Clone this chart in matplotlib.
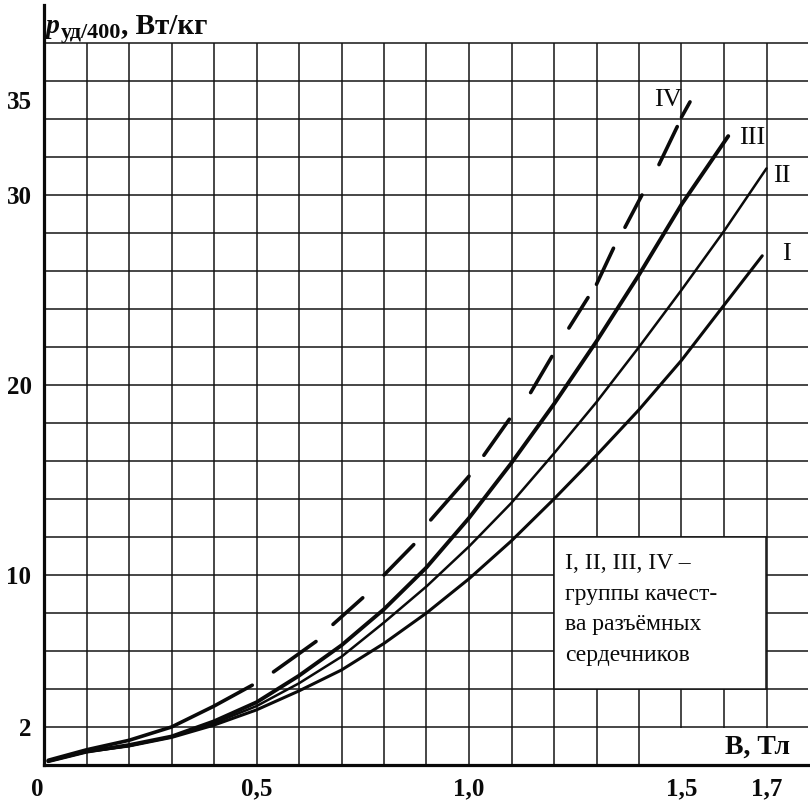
import matplotlib
matplotlib.use('Agg')
import matplotlib.pyplot as plt
from matplotlib.patches import Rectangle
from matplotlib.transforms import ScaledTranslation

plt.rcParams['font.family'] = ['Liberation Serif', 'DejaVu Serif']

# ---------------- data ----------------
B_I = [0.01, 0.1, 0.2, 0.3, 0.4, 0.5, 0.6, 0.7, 0.8, 0.9, 1.0, 1.1, 1.2, 1.3, 1.4, 1.5, 1.6, 1.69]
P_I = [0.2, 0.7, 1.0, 1.45, 2.1, 2.9, 3.9, 5.0, 6.4, 8.0, 9.8, 11.8, 14.0, 16.3, 18.7, 21.3, 24.2, 26.8]

B_II = [0.01, 0.1, 0.2, 0.3, 0.4, 0.5, 0.6, 0.7, 0.8, 0.9, 1.0, 1.1, 1.2, 1.3, 1.4, 1.5, 1.6, 1.7]
P_II = [0.2, 0.7, 1.0, 1.5, 2.2, 3.1, 4.3, 5.7, 7.5, 9.4, 11.5, 13.8, 16.4, 19.1, 22.0, 25.0, 28.1, 31.4]

B_III = [0.01, 0.1, 0.2, 0.3, 0.4, 0.5, 0.6, 0.7, 0.8, 0.9, 1.0, 1.1, 1.2, 1.3, 1.4, 1.5, 1.61]
P_III = [0.2, 0.7, 1.05, 1.5, 2.3, 3.3, 4.7, 6.3, 8.2, 10.4, 13.0, 15.9, 19.0, 22.3, 25.8, 29.5, 33.1]

# curve IV is drawn as separate dash pieces; DASHES_IV gives index ranges
B_IV = [0.01, 0.1, 0.2, 0.3, 0.4, 0.49, 0.54, 0.64, 0.68, 0.75, 0.80, 0.87, 0.91, 1.0,
        1.035, 1.095, 1.145, 1.195, 1.235, 1.28, 1.30, 1.34, 1.367, 1.407, 1.447, 1.49, 1.50, 1.52]
P_IV = [0.25, 0.8, 1.3, 2.0, 3.1, 4.2, 4.9, 6.5, 7.4, 8.8, 10.0, 11.6, 12.9, 15.2,
        16.3, 18.2, 19.6, 21.5, 23.0, 24.6, 25.3, 27.2, 28.3, 30.0, 31.6, 33.6, 34.1, 34.9]
DASHES_IV = [(0, 5), (6, 7), (8, 9), (10, 11), (12, 13), (14, 15), (16, 17), (18, 19),
             (20, 21), (22, 23), (24, 25), (26, 27)]

X_TICKS = [0, 0.5, 1.0, 1.5, 1.7]
X_TICK_LABELS = ['0', '0,5', '1,0', '1,5', '1,7']
Y_TICKS = [2, 10, 20, 30, 35]
Y_TICK_LABELS = ['2', '10', '20', '30', '35']
GRID_X = [0.1 * i for i in range(1, 18)]
GRID_Y = [2 * i for i in range(1, 20)]

CURVE_LABELS = ['I', 'II', 'III', 'IV']
LABEL_POS = [(1.748, 26.9), (1.736, 31.0), (1.666, 33.0), (1.468, 35.0)]
NOTE = 'I, II, III, IV –\nгруппы качест-\nва разъёмных\nсердечников'

# ---------------- figure ----------------
W, H = 810, 801
fig = plt.figure(figsize=(W / 100, H / 100), dpi=100)
ax = fig.add_axes([44 / W, 36 / H, (808 - 44) / W, (765 - 5) / H])
XMAX, YMAX = (808 - 44) / 425, 40
ax.set_xlim(0, XMAX)
ax.set_ylim(0, YMAX)

gc = '#151515'
ax.hlines(GRID_Y, 0, XMAX, color=gc, lw=1.1, zorder=1)
ax.vlines(GRID_X, 0, 38, color=gc, lw=1.1, zorder=1)

# white areas of the original drawing
ax.add_patch(Rectangle((1.2, 4), 0.5, 8, facecolor='white', edgecolor=gc, lw=1.1, zorder=2))
ax.add_patch(Rectangle((1.405, 0), XMAX - 1.405, 1.93, facecolor='white', edgecolor='none', zorder=2))

ink = '#0a0a0a'
ax.plot(B_I, P_I, color=ink, lw=2.2, solid_capstyle='round', solid_joinstyle='round', zorder=3)
ax.plot(B_II, P_II, color=ink, lw=1.8, solid_capstyle='round', solid_joinstyle='round', zorder=3)
ax.plot(B_III, P_III, color=ink, lw=2.8, solid_capstyle='round', solid_joinstyle='round', zorder=3)
for a, b in DASHES_IV:
    ax.plot(B_IV[a:b + 1], P_IV[a:b + 1], color=ink, lw=2.6,
            solid_capstyle='round', solid_joinstyle='round', zorder=3)

for lab, (x, y) in zip(CURVE_LABELS, LABEL_POS):
    ax.text(x, y, lab, fontsize=19, ha='center', va='center', color=ink, zorder=4)

ax.text(1.226, (765 - 553) / 19, NOTE, fontsize=17, ha='left', va='top', color=ink,
        linespacing=1.6, zorder=4)
ax.text(1.755, 0.95, 'B, Тл', fontsize=20, weight='bold', ha='right', va='center',
        color=ink, zorder=4)

for s in ['top', 'right']:
    ax.spines[s].set_visible(False)
for s in ['left', 'bottom']:
    ax.spines[s].set_linewidth(2.3)
    ax.spines[s].set_color(ink)
    ax.spines[s].set_zorder(5)

ax.set_xticks(X_TICKS)
ax.set_xticklabels(X_TICK_LABELS, fontsize=18, weight='bold')
ax.set_yticks(Y_TICKS)
ax.set_yticklabels(Y_TICK_LABELS, fontsize=18, weight='bold')
ax.tick_params(length=0, pad=9, colors=ink)
ax.get_xticklabels()[0].set_ha('right')

# title: p_{уд/400}, Вт/кг
renderer = fig.canvas.get_renderer()
def put(xpix, ybase, s, **kw):
    t = fig.text(xpix / W, 1 - ybase / H, s, va='baseline', ha='left', color=ink, **kw)
    bb = t.get_window_extent(renderer)
    return bb.x1
x = put(46, 33, 'p', fontsize=20, weight='bold', style='italic')
x = put(x + 1, 38, 'уд/400', fontsize=16, weight='bold')
put(x, 33, ', Вт/кг', fontsize=21, weight='bold')

fig.savefig('out.png', dpi=100, facecolor='white')
